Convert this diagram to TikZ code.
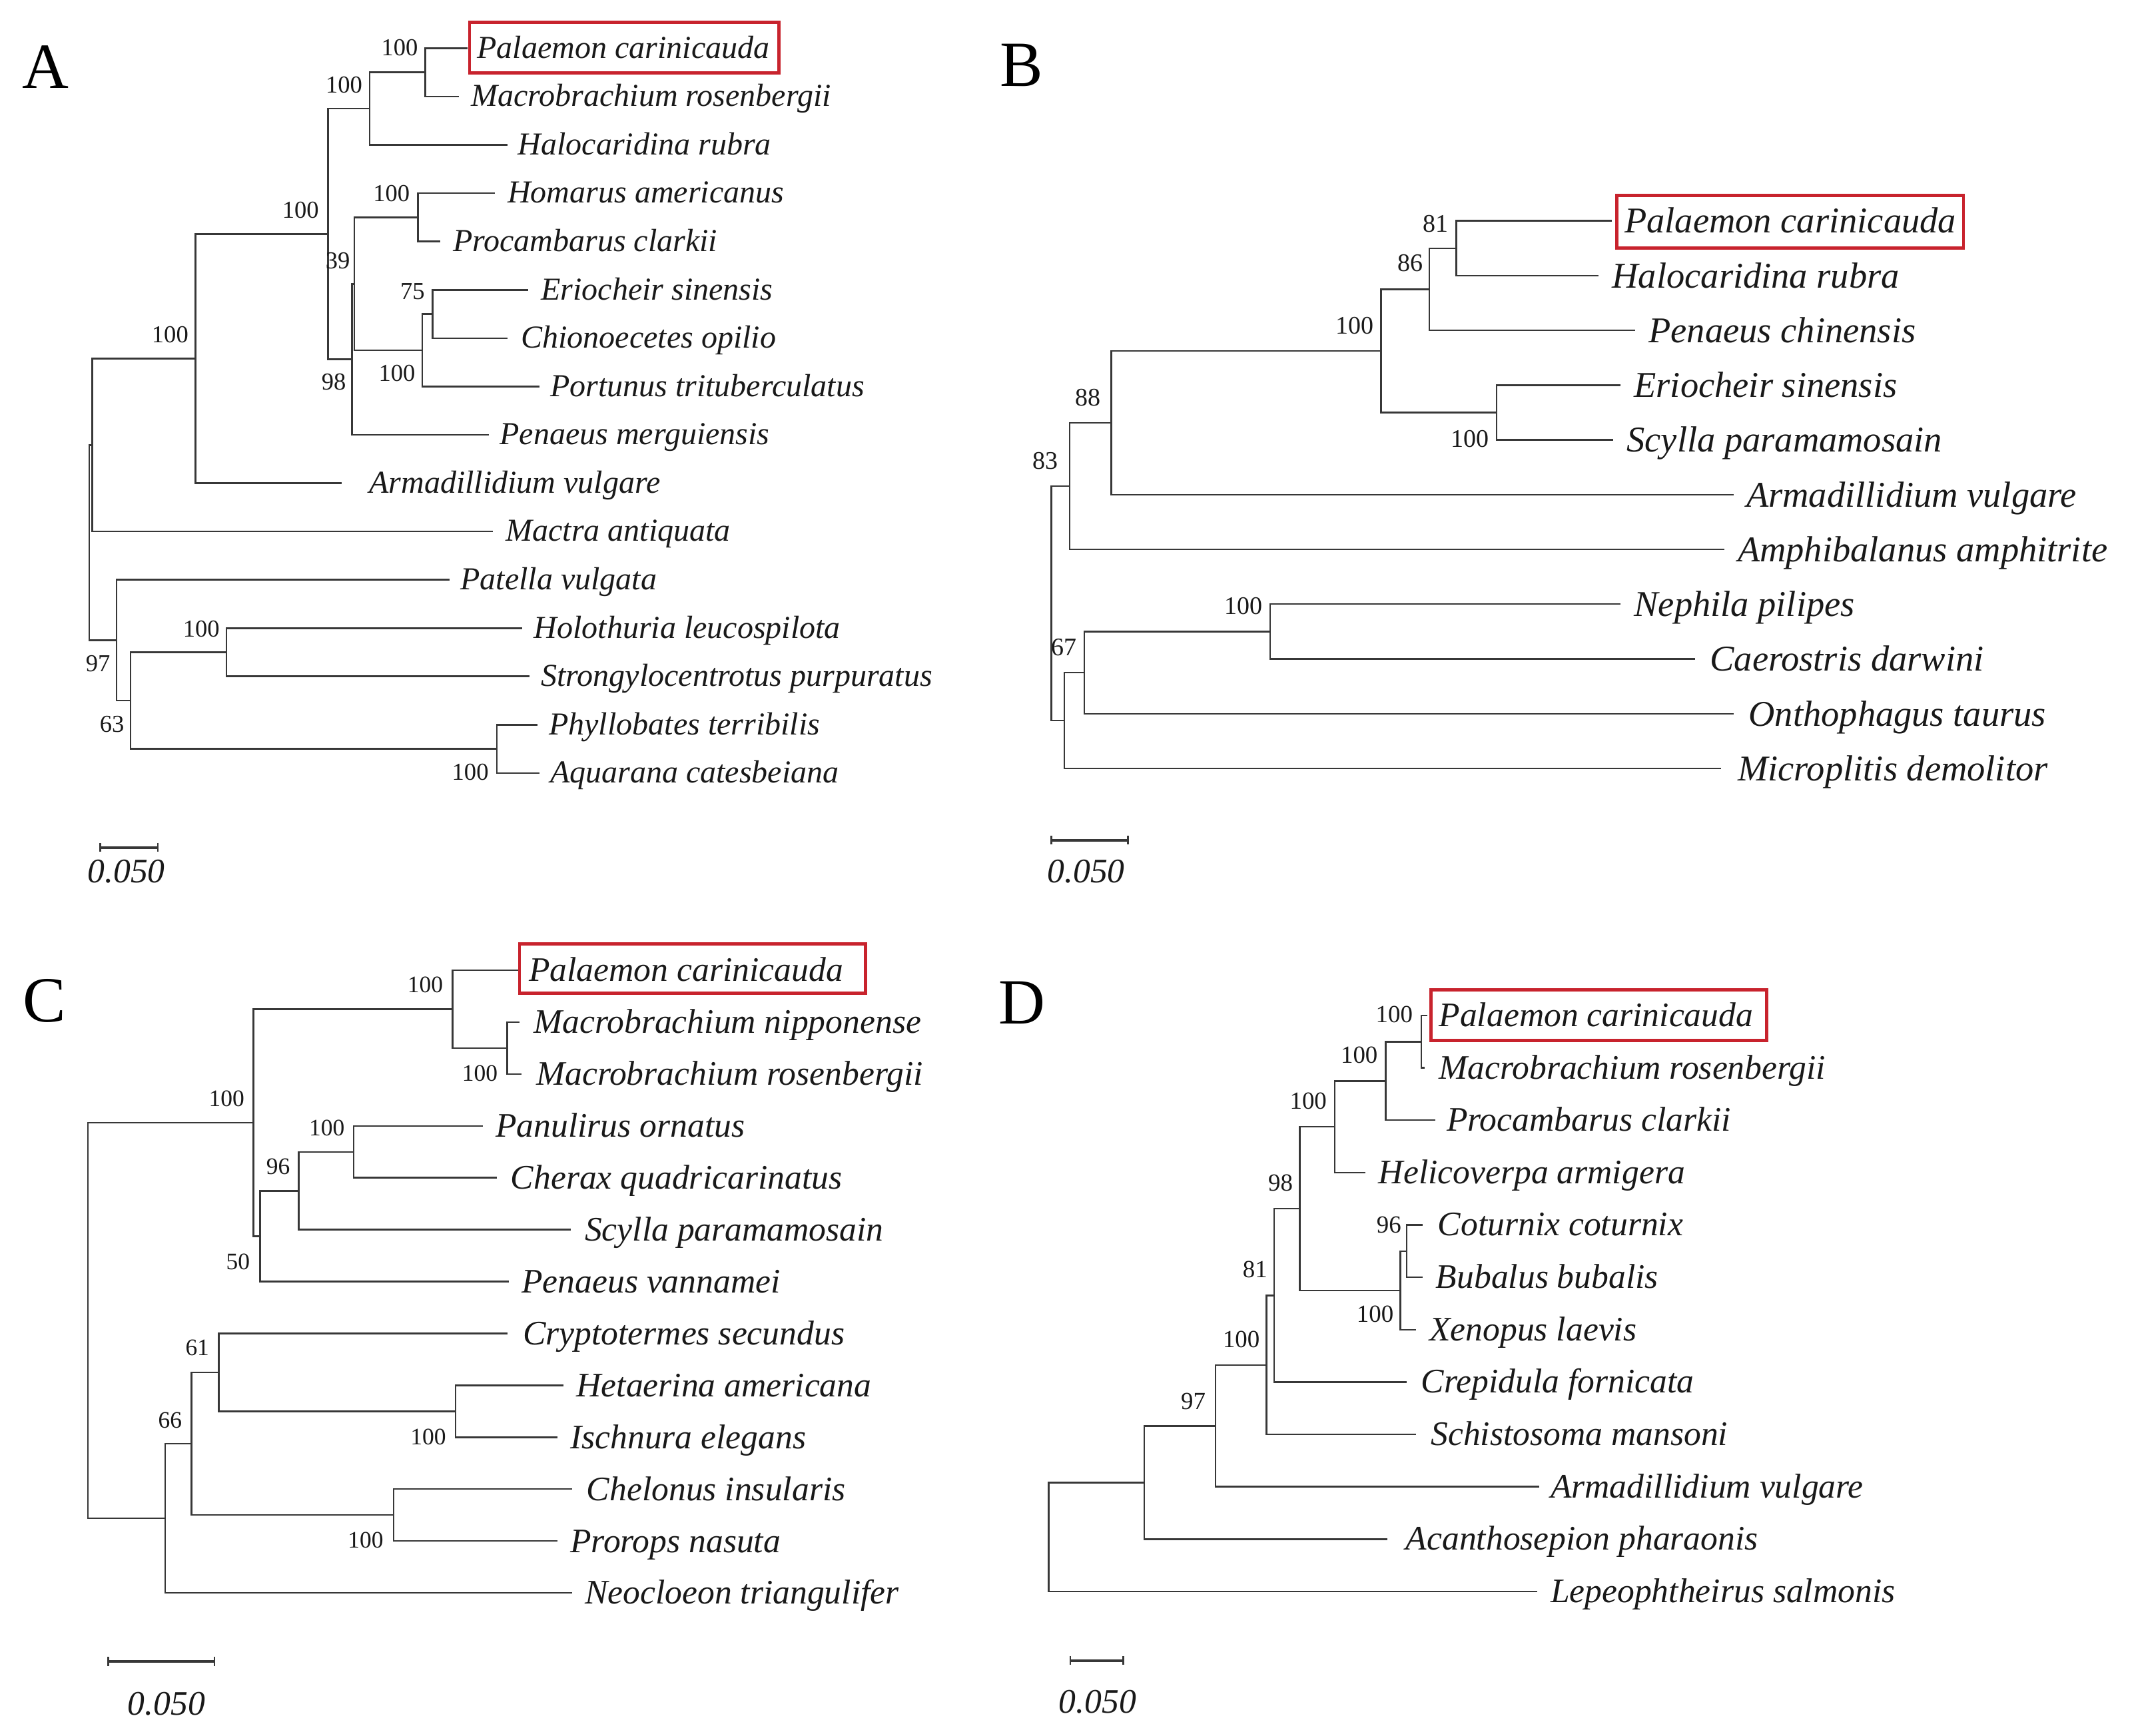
\documentclass[tikz,border=0pt]{standalone}
\usepackage{fontspec}
\setmainfont{Liberation Serif}
\definecolor{brc}{RGB}{55,55,55}
\definecolor{boxred}{RGB}{200,35,45}
\tikzset{
  br/.style={draw=brc, line width=0.7pt},
  scbar/.style={draw=brc, line width=1.1pt},
  redbox/.style={draw=boxred, line width=1.3pt},
  spA/.style={anchor=base west, inner sep=0pt, text=black!90, font=\fontsize{13.4}{16}\selectfont\itshape},
  spB/.style={anchor=base west, inner sep=0pt, text=black!90, font=\fontsize{15.2}{18}\selectfont\itshape},
  spC/.style={anchor=base west, inner sep=0pt, text=black!90, font=\fontsize{14.4}{17}\selectfont\itshape},
  spD/.style={anchor=base west, inner sep=0pt, text=black!90, font=\fontsize{14.4}{17}\selectfont\itshape},
  bsA/.style={anchor=base east, inner sep=0pt, text=black!90, font=\fontsize{10.2}{12}\selectfont},
  bsB/.style={anchor=base east, inner sep=0pt, text=black!90, font=\fontsize{10.6}{12}\selectfont},
  bsC/.style={anchor=base east, inner sep=0pt, text=black!90, font=\fontsize{9.9}{12}\selectfont},
  bsD/.style={anchor=base east, inner sep=0pt, text=black!90, font=\fontsize{10.3}{12}\selectfont},
  panel/.style={anchor=base, inner sep=0pt, font=\fontsize{27}{30}\selectfont},
  sclab/.style={anchor=base, inner sep=0pt, text=black!90, font=\fontsize{14.4}{17}\selectfont\itshape},
}
\begin{document}
\begin{tikzpicture}[x=0.02cm, y=-0.02cm]
\useasboundingbox (0,0) rectangle (1568,1278);
\fill[white] (0,0) rectangle (1568,1278);

% ================= Panel A =================
\node[panel] (A-lab) at (33.5,65) {A};
\coordinate (A-t1) at (344,35.5);
\coordinate (A-t2) at (337.7,71.1);
\coordinate (A-t3) at (373.4,106.7);
\coordinate (A-t4) at (364.5,142.2);
\coordinate (A-t5) at (324.2,177.8);
\coordinate (A-t6) at (389,213.4);
\coordinate (A-t7) at (373.4,249.0);
\coordinate (A-t8) at (397.1,284.6);
\coordinate (A-t9) at (360,320.1);
\coordinate (A-t10) at (251.3,355.7);
\coordinate (A-t11) at (363,391.3);
\coordinate (A-t12) at (331,426.9);
\coordinate (A-t13) at (384.6,462.5);
\coordinate (A-t14) at (390,498.0);
\coordinate (A-t15) at (395.8,533.6);
\coordinate (A-t16) at (397,569.2);
\coordinate (A-nPM) at (313,53.3);
\coordinate (A-nPMH) at (272,80);
\coordinate (A-nHP) at (307.7,160);
\coordinate (A-n75) at (318.4,231.2);
\coordinate (A-ncrab) at (310.8,257.9);
\coordinate (A-n39) at (260.8,209);
\coordinate (A-n98) at (259.2,264.5);
\coordinate (A-ncrust) at (241.5,172.3);
\coordinate (A-narth) at (144,264);
\coordinate (A-n68) at (68,327.7);
\coordinate (A-nHS) at (166.8,480.3);
\coordinate (A-nPA) at (365.8,551.4);
\coordinate (A-n63) at (96.2,515.9);
\coordinate (A-n97) at (85.9,471.4);
\coordinate (A-root) at (65.7,399.5);
\draw[br] (A-root) |- (A-n68);  \draw[br] (A-root) |- (A-n97);
\draw[br] (A-n68) |- (A-narth); \draw[br] (A-n68) |- (A-t11);
\draw[br] (A-narth) |- (A-ncrust); \draw[br] (A-narth) |- (A-t10);
\draw[br] (A-ncrust) |- (A-nPMH); \draw[br] (A-ncrust) |- (A-n98);
\draw[br] (A-nPMH) |- (A-nPM); \draw[br] (A-nPMH) |- (A-t3);
\draw[br] (A-nPM) |- (A-t1); \draw[br] (A-nPM) |- (A-t2);
\draw[br] (A-n98) |- (A-n39); \draw[br] (A-n98) |- (A-t9);
\draw[br] (A-n39) |- (A-nHP); \draw[br] (A-n39) |- (A-ncrab);
\draw[br] (A-nHP) |- (A-t4); \draw[br] (A-nHP) |- (A-t5);
\draw[br] (A-ncrab) |- (A-n75); \draw[br] (A-ncrab) |- (A-t8);
\draw[br] (A-n75) |- (A-t6); \draw[br] (A-n75) |- (A-t7);
\draw[br] (A-n97) |- (A-t12); \draw[br] (A-n97) |- (A-n63);
\draw[br] (A-n63) |- (A-nHS); \draw[br] (A-n63) |- (A-nPA);
\draw[br] (A-nHS) |- (A-t13); \draw[br] (A-nHS) |- (A-t14);
\draw[br] (A-nPA) |- (A-t15); \draw[br] (A-nPA) |- (A-t16);
\node[spA] (A-l1) at (351,42.8) {Palaemon carinicauda};
\node[spA] (A-l2) at (346.6,78.4) {Macrobrachium rosenbergii};
\node[spA] (A-l3) at (381,114) {Halocaridina rubra};
\node[spA] (A-l4) at (373.4,149.5) {Homarus americanus};
\node[spA] (A-l5) at (333.2,185.1) {Procambarus clarkii};
\node[spA] (A-l6) at (398,220.7) {Eriocheir sinensis};
\node[spA] (A-l7) at (383.3,256.3) {Chionoecetes opilio};
\node[spA] (A-l8) at (404.7,291.9) {Portunus trituberculatus};
\node[spA] (A-l9) at (367.6,327.4) {Penaeus merguiensis};
\node[spA] (A-l10) at (271.5,363) {Armadillidium vulgare};
\node[spA] (A-l11) at (372,398.6) {Mactra antiquata};
\node[spA] (A-l12) at (338.6,434.2) {Patella vulgata};
\node[spA] (A-l13) at (392.7,469.8) {Holothuria leucospilota};
\node[spA] (A-l14) at (398,505.3) {Strongylocentrotus purpuratus};
\node[spA] (A-l15) at (403.8,540.9) {Phyllobates terribilis};
\node[spA] (A-l16) at (404.7,576.5) {Aquarana catesbeiana};
\draw[redbox] (345.7,16.4) rectangle (573.3,53.6);
\node[bsA] (A-b1) at (308,41) {100};
\node[bsA] (A-b2) at (267,68.5) {100};
\node[bsA] (A-b3) at (235,160.4) {100};
\node[bsA] (A-b4) at (258,197.6) {39};
\node[bsA] (A-b5) at (255,287) {98};
\node[bsA] (A-b6) at (302,148.4) {100};
\node[bsA] (A-b7) at (313,220.6) {75};
\node[bsA] (A-b8) at (306,280.8) {100};
\node[bsA] (A-b9) at (139,252.3) {100};
\node[bsA] (A-b10) at (81.4,494.4) {97};
\node[bsA] (A-b11) at (91.7,539.3) {63};
\node[bsA] (A-b12) at (162,469.2) {100};
\node[bsA] (A-b13) at (360,574.3) {100};
\coordinate (A-s1) at (73.8,624);
\coordinate (A-s2) at (116.3,624);
\draw[scbar] (A-s1) -- (A-s2);
\draw[br] ([yshift=0.066cm]A-s1) -- ([yshift=-0.066cm]A-s1);
\draw[br] ([yshift=0.066cm]A-s2) -- ([yshift=-0.066cm]A-s2);
\node[sclab] (A-sl) at (93,650) {0.050};

% ================= Panel B =================
\node[panel] (B-lab) at (752,63.5) {B};
\coordinate (B-u1) at (1186.5,162.6);
\coordinate (B-u2) at (1176.8,202.9);
\coordinate (B-u3) at (1203.7,243.2);
\coordinate (B-u4) at (1193,283.6);
\coordinate (B-u5) at (1187.6,323.9);
\coordinate (B-u6) at (1276.2,364.2);
\coordinate (B-u7) at (1269.2,404.5);
\coordinate (B-u8) at (1192.9,444.8);
\coordinate (B-u9) at (1247.7,485.2);
\coordinate (B-u10) at (1276.2,525.5);
\coordinate (B-u11) at (1267.1,565.8);
\coordinate (B-n81) at (1072.1,182.8);
\coordinate (B-n86) at (1052.2,213);
\coordinate (B-ncrab) at (1101.6,303.8);
\coordinate (B-n100) at (1016.7,258.4);
\coordinate (B-n88) at (818,311.3);
\coordinate (B-n83) at (787.4,357.9);
\coordinate (B-nNC) at (935.1,465);
\coordinate (B-nNCO) at (798.1,495.3);
\coordinate (B-n67) at (783.6,530.6);
\coordinate (B-root) at (774,444.3);
\draw[br] (B-root) |- (B-n83); \draw[br] (B-root) |- (B-n67);
\draw[br] (B-n83) |- (B-n88); \draw[br] (B-n83) |- (B-u7);
\draw[br] (B-n88) |- (B-n100); \draw[br] (B-n88) |- (B-u6);
\draw[br] (B-n100) |- (B-n86); \draw[br] (B-n100) |- (B-ncrab);
\draw[br] (B-n86) |- (B-n81); \draw[br] (B-n86) |- (B-u3);
\draw[br] (B-n81) |- (B-u1); \draw[br] (B-n81) |- (B-u2);
\draw[br] (B-ncrab) |- (B-u4); \draw[br] (B-ncrab) |- (B-u5);
\draw[br] (B-n67) |- (B-nNCO); \draw[br] (B-n67) |- (B-u11);
\draw[br] (B-nNCO) |- (B-nNC); \draw[br] (B-nNCO) |- (B-u10);
\draw[br] (B-nNC) |- (B-u8); \draw[br] (B-nNC) |- (B-u9);
\node[spB] (B-l1) at (1195.6,171.6) {Palaemon carinicauda};
\node[spB] (B-l2) at (1186.5,211.9) {Halocaridina rubra};
\node[spB] (B-l3) at (1213.4,252.2) {Penaeus chinensis};
\node[spB] (B-l4) at (1202.6,292.6) {Eriocheir sinensis};
\node[spB] (B-l5) at (1197.2,332.9) {Scylla paramamosain};
\node[spB] (B-l6) at (1285.3,373.2) {Armadillidium vulgare};
\node[spB] (B-l7) at (1278.9,413.5) {Amphibalanus amphitrite};
\node[spB] (B-l8) at (1202.6,453.8) {Nephila pilipes};
\node[spB] (B-l9) at (1258.5,494.2) {Caerostris darwini};
\node[spB] (B-l10) at (1287,534.5) {Onthophagus taurus};
\node[spB] (B-l11) at (1278.9,574.8) {Microplitis demolitor};
\draw[redbox] (1190.3,143.8) rectangle (1445.4,182.7);
\node[bsB] (B-b1) at (1066.7,170.9) {81};
\node[bsB] (B-b2) at (1048,200) {86};
\node[bsB] (B-b3) at (1011.4,245.8) {100};
\node[bsB] (B-b4) at (1096.2,329.4) {100};
\node[bsB] (B-b5) at (810.5,298.9) {88};
\node[bsB] (B-b6) at (779.3,345.5) {83};
\node[bsB] (B-b7) at (929.7,452.4) {100};
\node[bsB] (B-b8) at (792.7,482.9) {67};
\coordinate (B-s1) at (774,618.6);
\coordinate (B-s2) at (830.3,618.6);
\draw[scbar] (B-s1) -- (B-s2);
\draw[br] ([yshift=0.066cm]B-s1) -- ([yshift=-0.066cm]B-s1);
\draw[br] ([yshift=0.066cm]B-s2) -- ([yshift=-0.066cm]B-s2);
\node[sclab] (B-sl) at (799.5,650) {0.050};

% ================= Panel C =================
\node[panel] (C-lab) at (32.5,752.5) {C};
\coordinate (C-c1) at (382.4,714.4);
\coordinate (C-c2) at (382.4,752.6);
\coordinate (C-c3) at (383.7,790.8);
\coordinate (C-c4) at (355.5,829);
\coordinate (C-c5) at (365.8,867.2);
\coordinate (C-c6) at (420.4,905.4);
\coordinate (C-c7) at (374.8,943.6);
\coordinate (C-c8) at (373.4,981.8);
\coordinate (C-c9) at (415,1020);
\coordinate (C-c10) at (410.6,1058.2);
\coordinate (C-c11) at (421.3,1096.4);
\coordinate (C-c12) at (410.6,1134.6);
\coordinate (C-c13) at (421.3,1172.8);
\coordinate (C-nMM) at (373.4,771.7);
\coordinate (C-nPMM) at (333.2,743.1);
\coordinate (C-nPC) at (260.3,848.1);
\coordinate (C-n96) at (220,876.8);
\coordinate (C-n50) at (191.4,910.2);
\coordinate (C-nDec) at (186.5,826.7);
\coordinate (C-nHI) at (335.4,1039.1);
\coordinate (C-n61) at (161,1010.5);
\coordinate (C-nCP) at (289.8,1115.5);
\coordinate (C-n66) at (140.9,1063);
\coordinate (C-nIns) at (121.6,1117.9);
\coordinate (C-root) at (64.8,972.3);
\draw[br] (C-root) |- (C-nDec); \draw[br] (C-root) |- (C-nIns);
\draw[br] (C-nDec) |- (C-nPMM); \draw[br] (C-nDec) |- (C-n50);
\draw[br] (C-nPMM) |- (C-c1); \draw[br] (C-nPMM) |- (C-nMM);
\draw[br] (C-nMM) |- (C-c2); \draw[br] (C-nMM) |- (C-c3);
\draw[br] (C-n50) |- (C-n96); \draw[br] (C-n50) |- (C-c7);
\draw[br] (C-n96) |- (C-nPC); \draw[br] (C-n96) |- (C-c6);
\draw[br] (C-nPC) |- (C-c4); \draw[br] (C-nPC) |- (C-c5);
\draw[br] (C-nIns) |- (C-n66); \draw[br] (C-nIns) |- (C-c13);
\draw[br] (C-n66) |- (C-n61); \draw[br] (C-n66) |- (C-nCP);
\draw[br] (C-n61) |- (C-c8); \draw[br] (C-n61) |- (C-nHI);
\draw[br] (C-nHI) |- (C-c9); \draw[br] (C-nHI) |- (C-c10);
\draw[br] (C-nCP) |- (C-c11); \draw[br] (C-nCP) |- (C-c12);
\node[spC] (C-l1) at (389.1,722.7) {Palaemon carinicauda};
\node[spC] (C-l2) at (392.7,760.9) {Macrobrachium nipponense};
\node[spC] (C-l3) at (394.5,799.1) {Macrobrachium rosenbergii};
\node[spC] (C-l4) at (364.5,837.3) {Panulirus ornatus};
\node[spC] (C-l5) at (375.7,875.5) {Cherax quadricarinatus};
\node[spC] (C-l6) at (430.2,913.7) {Scylla paramamosain};
\node[spC] (C-l7) at (383.7,951.9) {Penaeus vannamei};
\node[spC] (C-l8) at (384.6,990.1) {Cryptotermes secundus};
\node[spC] (C-l9) at (424,1028.3) {Hetaerina americana};
\node[spC] (C-l10) at (419.5,1066.5) {Ischnura elegans};
\node[spC] (C-l11) at (431.6,1104.7) {Chelonus insularis};
\node[spC] (C-l12) at (419.5,1142.9) {Prorops nasuta};
\node[spC] (C-l13) at (430.2,1181.1) {Neocloeon triangulifer};
\draw[redbox] (382.4,695) rectangle (637.3,731.3);
\node[bsC] (C-b1) at (326.5,731) {100};
\node[bsC] (C-b2) at (366.7,796) {100};
\node[bsC] (C-b3) at (180.2,814.4) {100};
\node[bsC] (C-b4) at (184.3,934.6) {50};
\node[bsC] (C-b5) at (213.8,864.8) {96};
\node[bsC] (C-b6) at (254,836.1) {100};
\node[bsC] (C-b7) at (154.3,998.1) {61};
\node[bsC] (C-b8) at (134.2,1051.5) {66};
\node[bsC] (C-b9) at (328.7,1063.8) {100};
\node[bsC] (C-b10) at (282.6,1139.8) {100};
\coordinate (C-s1) at (79.6,1223.2);
\coordinate (C-s2) at (157.9,1223.2);
\draw[scbar] (C-s1) -- (C-s2);
\draw[br] ([yshift=0.066cm]C-s1) -- ([yshift=-0.066cm]C-s1);
\draw[br] ([yshift=0.066cm]C-s2) -- ([yshift=-0.066cm]C-s2);
\node[sclab] (C-sl) at (122.5,1263) {0.050};

% ================= Panel D =================
\node[panel] (D-lab) at (752.5,754) {D};
\coordinate (D-d1) at (1050.6,747.7);
\coordinate (D-d2) at (1048.7,786.3);
\coordinate (D-d3) at (1056.7,824.8);
\coordinate (D-d4) at (1005.1,863.4);
\coordinate (D-d5) at (1047.3,901.9);
\coordinate (D-d6) at (1047.3,940.5);
\coordinate (D-d7) at (1042.6,979.1);
\coordinate (D-d8) at (1035.6,1017.6);
\coordinate (D-d9) at (1042.6,1056.2);
\coordinate (D-d10) at (1133.1,1094.7);
\coordinate (D-d11) at (1021.5,1133.3);
\coordinate (D-d12) at (1131.7,1171.9);
\coordinate (D-nPM) at (1046.4,767);
\coordinate (D-nPMP) at (1020.1,795.9);
\coordinate (D-nPMPH) at (982.6,829.7);
\coordinate (D-n96) at (1035.6,921.2);
\coordinate (D-nVert) at (1030.9,950.2);
\coordinate (D-n98) at (956.8,890);
\coordinate (D-n81) at (938,953.8);
\coordinate (D-n100b) at (932.4,1005);
\coordinate (D-n97) at (894.9,1049.9);
\coordinate (D-nDA) at (842.3,1091.6);
\coordinate (D-root) at (772,1131.8);
\draw[br] (D-root) |- (D-nDA); \draw[br] (D-root) |- (D-d12);
\draw[br] (D-nDA) |- (D-n97); \draw[br] (D-nDA) |- (D-d11);
\draw[br] (D-n97) |- (D-n100b); \draw[br] (D-n97) |- (D-d10);
\draw[br] (D-n100b) |- (D-n81); \draw[br] (D-n100b) |- (D-d9);
\draw[br] (D-n81) |- (D-n98); \draw[br] (D-n81) |- (D-d8);
\draw[br] (D-n98) |- (D-nPMPH); \draw[br] (D-n98) |- (D-nVert);
\draw[br] (D-nPMPH) |- (D-nPMP); \draw[br] (D-nPMPH) |- (D-d4);
\draw[br] (D-nPMP) |- (D-nPM); \draw[br] (D-nPMP) |- (D-d3);
\draw[br] (D-nPM) |- (D-d1); \draw[br] (D-nPM) |- (D-d2);
\draw[br] (D-nVert) |- (D-n96); \draw[br] (D-nVert) |- (D-d7);
\draw[br] (D-n96) |- (D-d5); \draw[br] (D-n96) |- (D-d6);
\node[spD] (D-l1) at (1059,755.7) {Palaemon carinicauda};
\node[spD] (D-l2) at (1059,794.3) {Macrobrachium rosenbergii};
\node[spD] (D-l3) at (1064.7,832.8) {Procambarus clarkii};
\node[spD] (D-l4) at (1014.5,871.4) {Helicoverpa armigera};
\node[spD] (D-l5) at (1058.1,909.9) {Coturnix coturnix};
\node[spD] (D-l6) at (1056.7,948.5) {Bubalus bubalis};
\node[spD] (D-l7) at (1052,987.1) {Xenopus laevis};
\node[spD] (D-l8) at (1045.9,1025.6) {Crepidula fornicata};
\node[spD] (D-l9) at (1053,1064.2) {Schistosoma mansoni};
\node[spD] (D-l10) at (1141.1,1102.7) {Armadillidium vulgare};
\node[spD] (D-l11) at (1034.6,1141.3) {Acanthosepion pharaonis};
\node[spD] (D-l12) at (1141.1,1179.9) {Lepeophtheirus salmonis};
\draw[redbox] (1053.4,728.9) rectangle (1300.6,766.1);
\node[bsD] (D-b1) at (1040.3,752.7) {100};
\node[bsD] (D-b2) at (1014.5,782.7) {100};
\node[bsD] (D-b3) at (977,816.7) {100};
\node[bsD] (D-b4) at (952.1,876.8) {98};
\node[bsD] (D-b5) at (1031.8,907.8) {96};
\node[bsD] (D-b6) at (1026.2,973.7) {100};
\node[bsD] (D-b7) at (933.3,940.7) {81};
\node[bsD] (D-b8) at (927.7,992.2) {100};
\node[bsD] (D-b9) at (887.8,1037.8) {97};
\coordinate (D-s1) at (787.9,1222.6);
\coordinate (D-s2) at (826.9,1222.6);
\draw[scbar] (D-s1) -- (D-s2);
\draw[br] ([yshift=0.066cm]D-s1) -- ([yshift=-0.066cm]D-s1);
\draw[br] ([yshift=0.066cm]D-s2) -- ([yshift=-0.066cm]D-s2);
\node[sclab] (D-sl) at (808,1261.5) {0.050};
\end{tikzpicture}
\end{document}
